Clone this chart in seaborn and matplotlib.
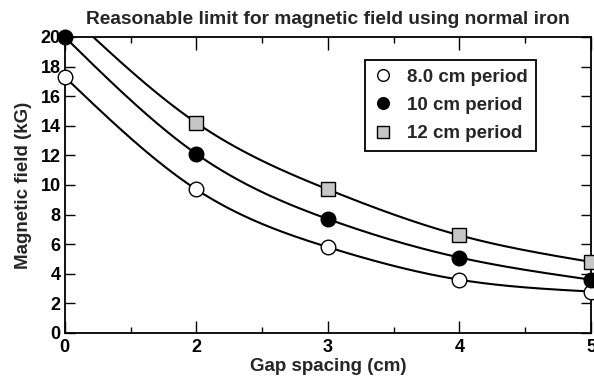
import numpy as np
import pandas as pd
import matplotlib
matplotlib.use("Agg")
import matplotlib.pyplot as plt
import seaborn as sns
from matplotlib.ticker import MultipleLocator

# Gap positions along the axis and the labels printed under them
gap_pos = [1, 2, 3, 4, 5]
gap_labels = ["0", "2", "3", "4", "5"]

# Peak field (kG) for each undulator period
field_8cm = [17.3, 9.7, 5.8, 3.6, 2.8]
field_10cm = [20.0, 12.1, 7.7, 5.1, 3.6]
field_12cm = [21.8, 14.2, 9.7, 6.6, 4.8]   # first value lies above the plotted range

series = ["8.0 cm period", "10 cm period", "12 cm period"]

sns.set_theme(style="ticks")
plt.rcParams["font.family"] = ["Liberation Sans", "DejaVu Sans"]
plt.rcParams["font.weight"] = "bold"


def natural_spline(x, y, n=200):
    """Smooth curve through the given points (natural cubic spline)."""
    x = np.asarray(x, float)
    y = np.asarray(y, float)
    k = len(x)
    h = np.diff(x)
    A = np.zeros((k, k))
    r = np.zeros(k)
    A[0, 0] = A[-1, -1] = 1.0
    for i in range(1, k - 1):
        A[i, i - 1] = h[i - 1]
        A[i, i] = 2 * (h[i - 1] + h[i])
        A[i, i + 1] = h[i]
        r[i] = 3 * ((y[i + 1] - y[i]) / h[i] - (y[i] - y[i - 1]) / h[i - 1])
    c = np.linalg.solve(A, r)
    b = (np.diff(y) / h) - h * (2 * c[:-1] + c[1:]) / 3
    d = np.diff(c) / (3 * h)
    xs = np.linspace(x[0], x[-1], n)
    idx = np.clip(np.searchsorted(x, xs, side="right") - 1, 0, k - 2)
    t = xs - x[idx]
    ys = y[idx] + b[idx] * t + c[idx] * t ** 2 + d[idx] * t ** 3
    return xs, ys


fig = plt.figure(figsize=(5.94, 3.81), dpi=100)
ax = fig.add_axes([0.109, 0.126, 0.886, 0.777])

styles = {
    "8.0 cm period": dict(marker="o", face="white", size=10.5),
    "10 cm period": dict(marker="o", face="black", size=10.5),
    "12 cm period": dict(marker="s", face="#c6c6c6", size=10),
}
values = {"8.0 cm period": field_8cm, "10 cm period": field_10cm,
          "12 cm period": field_12cm}

ymax = 20
for name in series:
    xs, ys = natural_spline(gap_pos, values[name])
    curve = pd.DataFrame({"gap": xs, "field": ys})
    sns.lineplot(data=curve, x="gap", y="field", ax=ax, color="black",
                 linewidth=1.5, sort=False, legend=False, zorder=2)

for name in series:
    st = styles[name]
    pts = pd.DataFrame({"gap": gap_pos, "field": values[name]})
    pts = pts[pts["field"] <= ymax]
    ax.plot(pts["gap"], pts["field"], linestyle="none", marker=st["marker"],
            markersize=st["size"], markerfacecolor=st["face"],
            markeredgecolor="black", markeredgewidth=1.0, clip_on=False,
            zorder=3, label=name)

ax.set_xlim(1, 5)
ax.set_ylim(0, 20)
ax.set_xticks(gap_pos)
ax.set_xticklabels(gap_labels)
ax.xaxis.set_minor_locator(MultipleLocator(0.5))
ax.yaxis.set_major_locator(MultipleLocator(2))

ax.tick_params(axis="both", which="both", direction="in", top=True,
               right=True, colors="black", labelsize=13, width=1.0)
ax.tick_params(axis="x", which="major", length=9, pad=4)
ax.tick_params(axis="x", which="minor", length=4.5)
ax.tick_params(axis="y", which="major", length=7.5, pad=3)
for lab in ax.get_xticklabels() + ax.get_yticklabels():
    lab.set_fontweight("bold")
for sp in ax.spines.values():
    sp.set_visible(True)
    sp.set_color("black")
    sp.set_linewidth(1.3)

ax.set_xlabel("Gap spacing (cm)", fontsize=13.5, fontweight="bold", labelpad=2)
ax.set_ylabel("Magnetic field (kG)", fontsize=13.5, fontweight="bold", labelpad=6)
ax.set_title("Reasonable limit for magnetic field using normal iron",
             fontsize=13.8, fontweight="bold", pad=9)

leg = ax.legend(loc="upper left", bbox_to_anchor=(0.57, 0.922), frameon=True,
                fancybox=False, edgecolor="black", framealpha=1,
                prop=dict(size=13.5, weight="bold"), handletextpad=0.8,
                borderpad=0.45, labelspacing=0.6, handlelength=1.0,
                borderaxespad=0, markerscale=0.8)
leg.get_frame().set_linewidth(1.3)

fig.savefig("out.png", dpi=100)
